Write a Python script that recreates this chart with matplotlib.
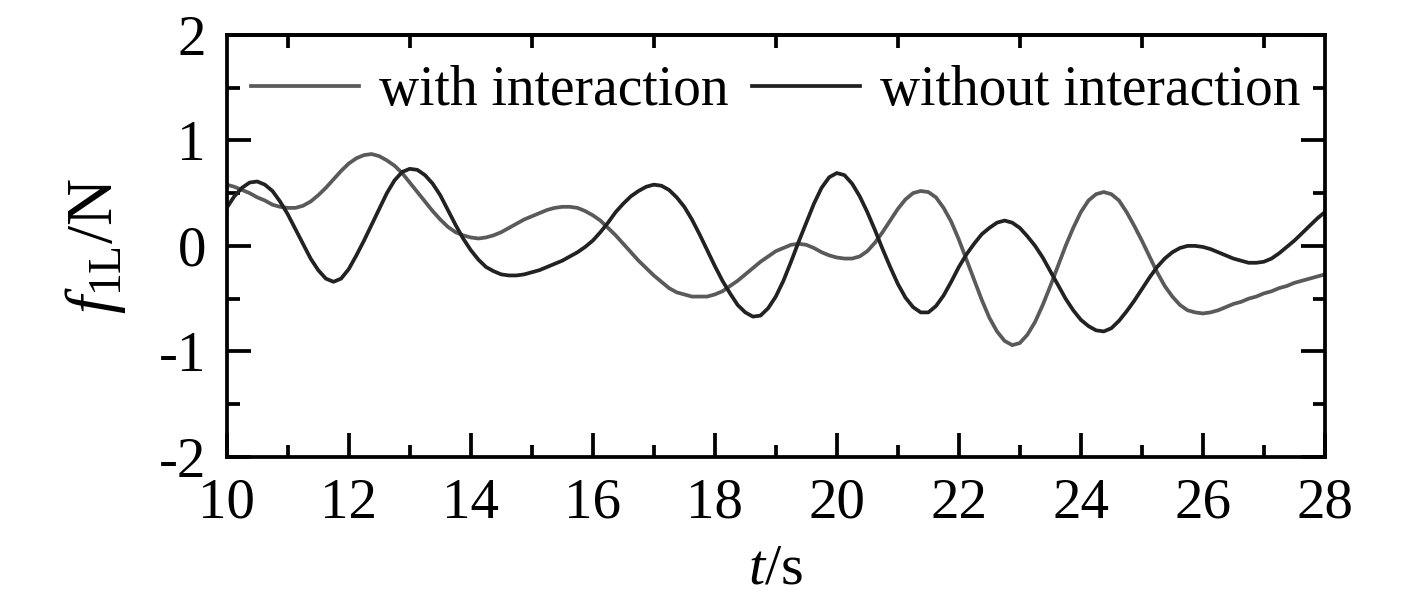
import numpy as np
import matplotlib
matplotlib.use("Agg")
import matplotlib.pyplot as plt
from matplotlib.ticker import MultipleLocator, FixedLocator

# values every 0.125 s (one row per second)
with_interaction = [
    0.58, 0.56, 0.53, 0.50, 0.46, 0.43, 0.39, 0.37,
    0.36, 0.36, 0.38, 0.42, 0.48, 0.55, 0.63, 0.71,
    0.78, 0.83, 0.86, 0.87, 0.85, 0.81, 0.76, 0.69,
    0.60, 0.51, 0.42, 0.33, 0.25, 0.18, 0.13, 0.10,
    0.08, 0.07, 0.08, 0.10, 0.13, 0.17, 0.21, 0.25,
    0.28, 0.31, 0.34, 0.36, 0.37, 0.37, 0.36, 0.33,
    0.29, 0.24, 0.17, 0.10, 0.02, -0.06, -0.14, -0.21,
    -0.28, -0.34, -0.40, -0.44, -0.46, -0.48, -0.48, -0.48,
    -0.46, -0.43, -0.38, -0.33, -0.27, -0.21, -0.15, -0.10,
    -0.05, -0.02, 0.01, 0.02, 0.01, -0.02, -0.06, -0.09,
    -0.11, -0.12, -0.12, -0.10, -0.05, 0.03, 0.13, 0.24,
    0.35, 0.44, 0.50, 0.52, 0.51, 0.46, 0.36, 0.23,
    0.06, -0.13, -0.32, -0.51, -0.68, -0.81, -0.90, -0.94,
    -0.92, -0.84, -0.72, -0.56, -0.38, -0.19, 0.00, 0.17,
    0.32, 0.43, 0.49, 0.51, 0.49, 0.43, 0.32, 0.19,
    0.05, -0.10, -0.25, -0.38, -0.48, -0.56, -0.61, -0.63,
    -0.64, -0.63, -0.61, -0.58, -0.55, -0.53, -0.50, -0.48,
    -0.45, -0.43, -0.40, -0.38, -0.35, -0.33, -0.31, -0.29,
    -0.27,
]

without_interaction = [
    0.36, 0.47, 0.55, 0.60, 0.61, 0.58, 0.52, 0.42,
    0.30, 0.16, 0.02, -0.12, -0.23, -0.31, -0.34, -0.31,
    -0.22, -0.09, 0.05, 0.20, 0.35, 0.50, 0.62, 0.70,
    0.73, 0.72, 0.67, 0.59, 0.48, 0.34, 0.20, 0.07,
    -0.04, -0.13, -0.20, -0.24, -0.27, -0.28, -0.28, -0.27,
    -0.25, -0.23, -0.20, -0.17, -0.14, -0.10, -0.06, -0.01,
    0.05, 0.13, 0.22, 0.32, 0.40, 0.47, 0.52, 0.56,
    0.58, 0.57, 0.53, 0.46, 0.37, 0.25, 0.11, -0.04,
    -0.19, -0.33, -0.45, -0.56, -0.63, -0.67, -0.66, -0.59,
    -0.48, -0.33, -0.15, 0.04, 0.22, 0.40, 0.55, 0.65,
    0.69, 0.67, 0.59, 0.47, 0.32, 0.15, -0.03, -0.20,
    -0.36, -0.49, -0.58, -0.63, -0.63, -0.57, -0.47, -0.34,
    -0.20, -0.08, 0.02, 0.11, 0.17, 0.22, 0.24, 0.22,
    0.17, 0.09, 0.00, -0.11, -0.24, -0.37, -0.50, -0.61,
    -0.70, -0.76, -0.80, -0.81, -0.78, -0.71, -0.62, -0.52,
    -0.41, -0.30, -0.20, -0.12, -0.06, -0.02, 0.00, 0.00,
    -0.01, -0.03, -0.06, -0.09, -0.12, -0.14, -0.16, -0.16,
    -0.15, -0.12, -0.07, -0.01, 0.05, 0.12, 0.19, 0.26,
    0.32,
]

t = np.arange(10.0, 28.0001, 0.125)

labels = ["with interaction", "without interaction"]

plt.rcParams["font.family"] = ["Liberation Serif", "DejaVu Serif"]
plt.rcParams["mathtext.fontset"] = "custom"
plt.rcParams["mathtext.rm"] = "Liberation Serif"
plt.rcParams["mathtext.it"] = "Liberation Serif:italic"
plt.rcParams["axes.unicode_minus"] = False

fig = plt.figure(figsize=(14.17, 5.99), dpi=100)
ax = fig.add_axes([0.160, 0.237, 0.775, 0.705])

ax.plot(t, with_interaction, color="#5a5a5a", lw=2.7, label=labels[0])
ax.plot(t, without_interaction, color="#222222", lw=2.7, label=labels[1])

ax.set_xlim(10, 28)
ax.set_ylim(-2, 2)
ax.xaxis.set_major_locator(MultipleLocator(2))
ax.xaxis.set_minor_locator(MultipleLocator(1))
ax.yaxis.set_major_locator(MultipleLocator(1))
ax.yaxis.set_minor_locator(MultipleLocator(0.5))

for s in ax.spines.values():
    s.set_linewidth(2.7)

ax.tick_params(which="both", direction="in", width=2.7, labelsize=41, pad=15,
               right=True, top=False)
ax.tick_params(which="major", length=17)
ax.tick_params(which="minor", length=9)

# top edge only carries the short ticks at odd seconds
top = ax.secondary_xaxis("top")
top.xaxis.set_major_locator(FixedLocator(np.arange(11, 28, 2)))
top.tick_params(direction="in", length=9, width=2.7, labeltop=False)
top.spines["top"].set_linewidth(2.7)

ax.set_xlabel(r"$t$/s", fontsize=42, labelpad=10)
ax.set_ylabel(r"$f_{\rm 1L}$/N", fontsize=47, labelpad=22)

ax.legend(loc="upper center", bbox_to_anchor=(0.5, 1.0), ncol=2, frameon=False,
          fontsize=40, handlelength=1.95, handletextpad=0.36, columnspacing=0.42,
          borderaxespad=0.15)

fig.savefig("out.png", dpi=100)
